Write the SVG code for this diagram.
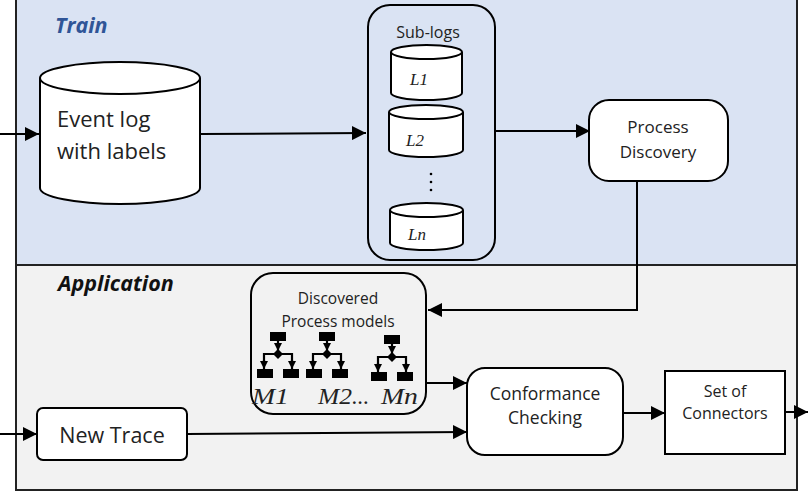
<svg xmlns="http://www.w3.org/2000/svg" xmlns:xlink="http://www.w3.org/1999/xlink" width="808" height="496" viewBox="0 0 808 496">
<style>
.ln{stroke:#000;stroke-width:2;fill:none}
.box{fill:#fff;stroke:#000;stroke-width:2}
.t{font-family:"Open Sans","Liberation Sans",sans-serif;fill:#222}
.m{font-family:"Liberation Serif",serif;font-style:italic;fill:#222}
.sec{font-family:"Open Sans","Liberation Sans",sans-serif;font-style:italic;font-weight:bold;font-size:21.5px}
.ic{stroke:#000;stroke-width:2.2;fill:none}
</style>
<defs>
<marker id="ar" viewBox="0 0 10 10" refX="10" refY="5" markerWidth="8" markerHeight="8" markerUnits="userSpaceOnUse" orient="auto">
<path d="M0,0 L10,5 L0,10 z" fill="#000"/>
</marker>
<marker id="ar2" viewBox="0 0 10 10" refX="10" refY="5" markerWidth="14" markerHeight="14" markerUnits="userSpaceOnUse" orient="auto">
<path d="M0,0 L10,5 L0,10 z" fill="#000"/>
</marker>
<g id="icon">
<rect x="-8" y="0" width="16" height="9" fill="#000"/>
<line class="ic" x1="0" y1="9" x2="0" y2="19" marker-end="url(#ar)"/>
<path d="M0,17 L5,22 L0,27 L-5,22 z" fill="#000"/>
<polyline class="ic" points="-14,30 -14,22 14,22 14,30"/>
<line class="ic" x1="-14" y1="28" x2="-14" y2="37" marker-end="url(#ar)"/>
<line class="ic" x1="14" y1="28" x2="14" y2="37" marker-end="url(#ar)"/>
<rect x="-21" y="37" width="16" height="9" fill="#000"/>
<rect x="5" y="37" width="16" height="9" fill="#000"/>
</g>
</defs>

<g id="background">
<rect x="16" y="-2" width="781" height="267" fill="#dae3f3"/>
<rect x="16" y="265" width="781" height="225" fill="#f2f2f2"/>
<rect x="16" y="-2" width="781" height="492" fill="none" stroke="#222" stroke-width="2"/>
<line x1="16" y1="265" x2="797" y2="265" stroke="#222" stroke-width="2"/>
<text x="55" y="33" class="sec" fill="#2f5597">Train</text>
<text x="58" y="291" class="sec" fill="#111">Application</text>
</g>

<g id="connectors">
<line class="ln" x1="0" y1="134" x2="39" y2="134" marker-end="url(#ar2)"/>
<line class="ln" x1="201" y1="134" x2="366" y2="133" marker-end="url(#ar2)"/>
<line class="ln" x1="495" y1="131" x2="590" y2="131" marker-end="url(#ar2)"/>
<polyline class="ln" points="637,181 637,310 428,310" marker-end="url(#ar2)"/>
<line class="ln" x1="426" y1="383" x2="467" y2="383" marker-end="url(#ar2)"/>
<line class="ln" x1="187" y1="434" x2="467" y2="432" marker-end="url(#ar2)"/>
<line class="ln" x1="623" y1="413" x2="665" y2="413" marker-end="url(#ar2)"/>
<line class="ln" x1="785" y1="412" x2="808" y2="412" marker-end="url(#ar2)"/>
<line class="ln" x1="0" y1="434" x2="37" y2="434" marker-end="url(#ar2)"/>
</g>

<g id="event-log">
<path class="box" d="M40,78 L40,188 A80,16 0 0 0 200,188 L200,78"/>
<ellipse class="box" cx="120" cy="78" rx="80" ry="16"/>
<text class="t" x="57" y="127" font-size="22">Event log</text>
<text class="t" x="57" y="159" font-size="22">with labels</text>
</g>

<g id="sub-logs">
<rect x="368" y="5" width="127" height="255" rx="22" fill="none" stroke="#000" stroke-width="2"/>
<text class="t" x="428" y="38" font-size="16" text-anchor="middle">Sub-logs</text>
<g id="L1">
<path class="box" d="M391,52 L391,93 A35.5,7 0 0 0 462,93 L462,52"/>
<ellipse class="box" cx="426.5" cy="52" rx="35.5" ry="7"/>
<text class="m" x="410" y="85" font-size="17">L1</text>
</g>
<g id="L2">
<path class="box" d="M389,112 L389,150 A37,7 0 0 0 463,150 L463,112"/>
<ellipse class="box" cx="426" cy="112" rx="37" ry="7"/>
<text class="m" x="406" y="146" font-size="17">L2</text>
</g>
<circle cx="431" cy="174" r="1.3" fill="#000"/>
<circle cx="431" cy="182" r="1.3" fill="#000"/>
<circle cx="431" cy="190" r="1.3" fill="#000"/>
<g id="Ln">
<path class="box" d="M390,210 L390,243 A36.5,7 0 0 0 463,243 L463,210"/>
<ellipse class="box" cx="426.5" cy="210" rx="36.5" ry="7"/>
<text class="m" x="408" y="240" font-size="17">Ln</text>
</g>
</g>

<g id="process-discovery">
<rect class="box" x="589" y="100" width="139" height="81" rx="20"/>
<text class="t" x="658" y="133" font-size="17" text-anchor="middle">Process</text>
<text class="t" x="658" y="158" font-size="17" text-anchor="middle">Discovery</text>
</g>

<g id="discovered-models">
<rect x="251" y="273" width="175" height="141" rx="22" fill="none" stroke="#000" stroke-width="2"/>
<text class="t" x="338" y="304" font-size="15.5" text-anchor="middle">Discovered</text>
<text class="t" x="338" y="327" font-size="15.5" text-anchor="middle">Process models</text>
<use xlink:href="#icon" x="278" y="332"/>
<use xlink:href="#icon" x="327" y="332"/>
<use xlink:href="#icon" x="392" y="335"/>
<text class="m" x="252" y="404" font-size="23" textLength="37" lengthAdjust="spacingAndGlyphs">M1</text>
<text class="m" x="318" y="404" font-size="23" textLength="34" lengthAdjust="spacingAndGlyphs">M2</text>
<text class="m" x="352" y="404" font-size="23">...</text>
<text class="m" x="381" y="404" font-size="23" textLength="37" lengthAdjust="spacingAndGlyphs">Mn</text>
</g>

<g id="conformance-checking">
<rect class="box" x="467" y="368" width="156" height="87" rx="18"/>
<text class="t" x="545" y="400" font-size="17.5" text-anchor="middle">Conformance</text>
<text class="t" x="545" y="424" font-size="17.5" text-anchor="middle">Checking</text>
</g>

<g id="set-of-connectors">
<rect class="box" x="665" y="371" width="120" height="83"/>
<text class="t" x="725" y="397" font-size="16" text-anchor="middle">Set of</text>
<text class="t" x="725" y="419" font-size="16" text-anchor="middle">Connectors</text>
</g>

<g id="new-trace">
<rect class="box" x="37" y="408" width="150" height="52" rx="6"/>
<text class="t" x="112" y="443" font-size="21.5" text-anchor="middle">New Trace</text>
</g>
</svg>
